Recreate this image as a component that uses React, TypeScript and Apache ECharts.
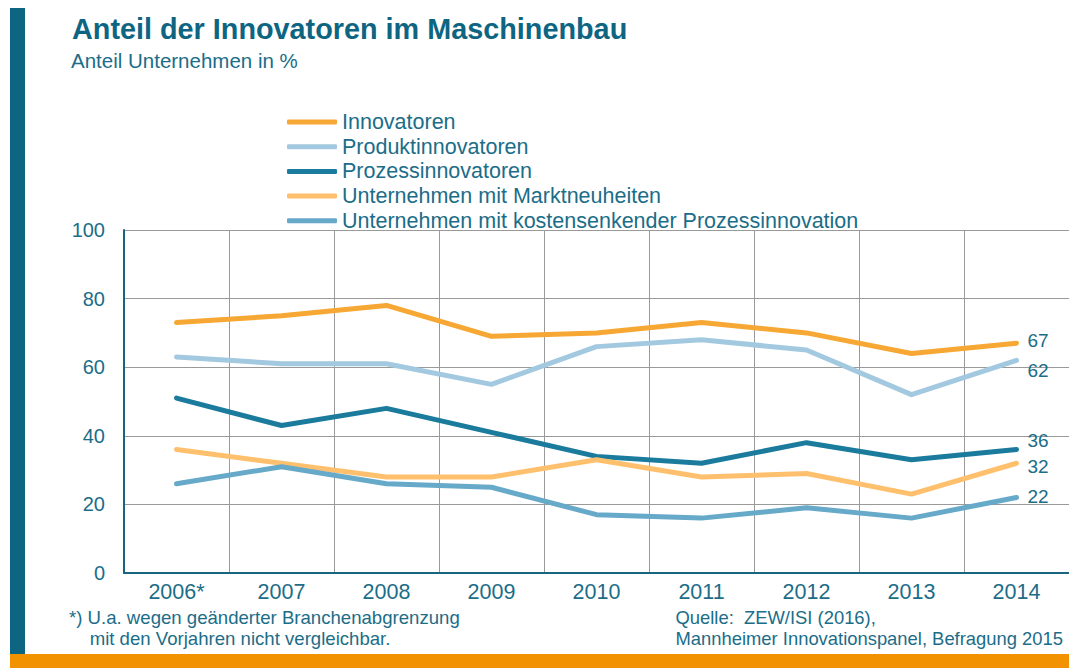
import React, { useEffect, useRef } from "react";
import * as echarts from "echarts";

const years = ["2006*", "2007", "2008", "2009", "2010", "2011", "2012", "2013", "2014"];
const innovatoren = [73, 75, 78, 69, 70, 73, 70, 64, 67];
const produktinnovatoren = [63, 61, 61, 55, 66, 68, 65, 52, 62];
const prozessinnovatoren = [51, 43, 48, 41, 34, 32, 38, 33, 36];
const marktneuheiten = [36, 32, 28, 28, 33, 28, 29, 23, 32];
const kostensenkend = [26, 31, 26, 25, 17, 16, 19, 16, 22];
const yTicks = [0, 20, 40, 60, 80, 100];

const TEAL = "#17657f";
const TXT = "#1b6d88";
const FONT = "Liberation Sans, Arial, sans-serif";

export default function App() {
  const ref = useRef<HTMLDivElement>(null);
  useEffect(() => {
    document.body.style.margin = "0";
    const chart = echarts.init(ref.current!, null, { renderer: "svg" });
    const mk = (name: string, data: number[], color: string, lblOffset: number[]) => ({
      name,
      type: "line",
      data,
      symbol: "none",
      lineStyle: { color, width: 5, cap: "round", join: "round" },
      itemStyle: { color },
      endLabel: {
        show: true,
        formatter: (p: any) => String(p.value),
        color: TXT,
        fontSize: 19,
        fontFamily: FONT,
        offset: lblOffset,
      },
    });
    chart.setOption({
      animation: false,
      textStyle: { fontFamily: FONT },
      graphic: [
        { type: "rect", shape: { x: 10, y: 8, width: 15, height: 648 }, style: { fill: "#0e6582" } },
        { type: "rect", shape: { x: 10, y: 654, width: 1059, height: 14 }, style: { fill: "#f39200" } },
        {
          type: "text", left: 72, top: 14,
          style: { text: "Anteil der Innovatoren im Maschinenbau", fill: "#0e6582", font: `bold 28.8px ${FONT}` },
        },
        {
          type: "text", left: 71, top: 50,
          style: { text: "Anteil Unternehmen in %", fill: TXT, font: `20.5px ${FONT}` },
        },
        {
          type: "text", left: 69, top: 607,
          style: { text: "*) U.a. wegen geänderter Branchenabgrenzung\n    mit den Vorjahren nicht vergleichbar.", fill: TXT, font: `18.6px ${FONT}`, lineHeight: 21 },
        },
        {
          type: "text", right: 6, top: 607,
          style: { text: "Quelle:  ZEW/ISI (2016),\nMannheimer Innovationspanel, Befragung 2015", fill: TXT, font: `18.4px ${FONT}`, lineHeight: 21, align: "right" },
        },
      ],
      legend: {
        orient: "vertical",
        left: 282,
        top: 106,
        itemWidth: 50,
        itemHeight: 5,
        itemGap: 2.7,
        icon: "roundRect",
        textStyle: { color: TXT, fontSize: 21.5, fontFamily: FONT, lineHeight: 20 },
        data: [
          "Innovatoren",
          "Produktinnovatoren",
          "Prozessinnovatoren",
          "Unternehmen mit Marktneuheiten",
          "Unternehmen mit kostensenkender Prozessinnovation",
        ],
      },
      grid: { left: 124, top: 230, width: 950, height: 343, containLabel: false },
      xAxis: {
        type: "category",
        data: years,
        boundaryGap: true,
        axisLine: { show: true, lineStyle: { color: TEAL, width: 2 } },
        axisTick: { show: false },
        axisLabel: { color: TXT, fontSize: 21.5, fontFamily: FONT, margin: 8 },
        splitLine: { show: true, lineStyle: { color: "#9a9a9a", width: 1 } },
      },
      yAxis: {
        type: "value",
        min: yTicks[0],
        max: yTicks[yTicks.length - 1],
        interval: 20,
        axisLine: { show: true, lineStyle: { color: TEAL, width: 2 } },
        axisTick: { show: false },
        axisLabel: { color: TXT, fontSize: 20, fontFamily: FONT, margin: 19 },
        splitLine: { show: true, lineStyle: { color: "#9a9a9a", width: 1 } },
      },
      series: [
        mk("Innovatoren", innovatoren, "#f7a733", [3, -3]),
        mk("Produktinnovatoren", produktinnovatoren, "#a3c9e0", [3, 10]),
        mk("Prozessinnovatoren", prozessinnovatoren, "#1a7b9c", [3, -9]),
        mk("Unternehmen mit Marktneuheiten", marktneuheiten, "#ffc06e", [3, 3]),
        mk("Unternehmen mit kostensenkender Prozessinnovation", kostensenkend, "#66a9c9", [3, -1]),
      ],
    });
    return () => chart.dispose();
  }, []);
  return <div ref={ref} style={{ width: 1069, height: 668 }} />;
}
